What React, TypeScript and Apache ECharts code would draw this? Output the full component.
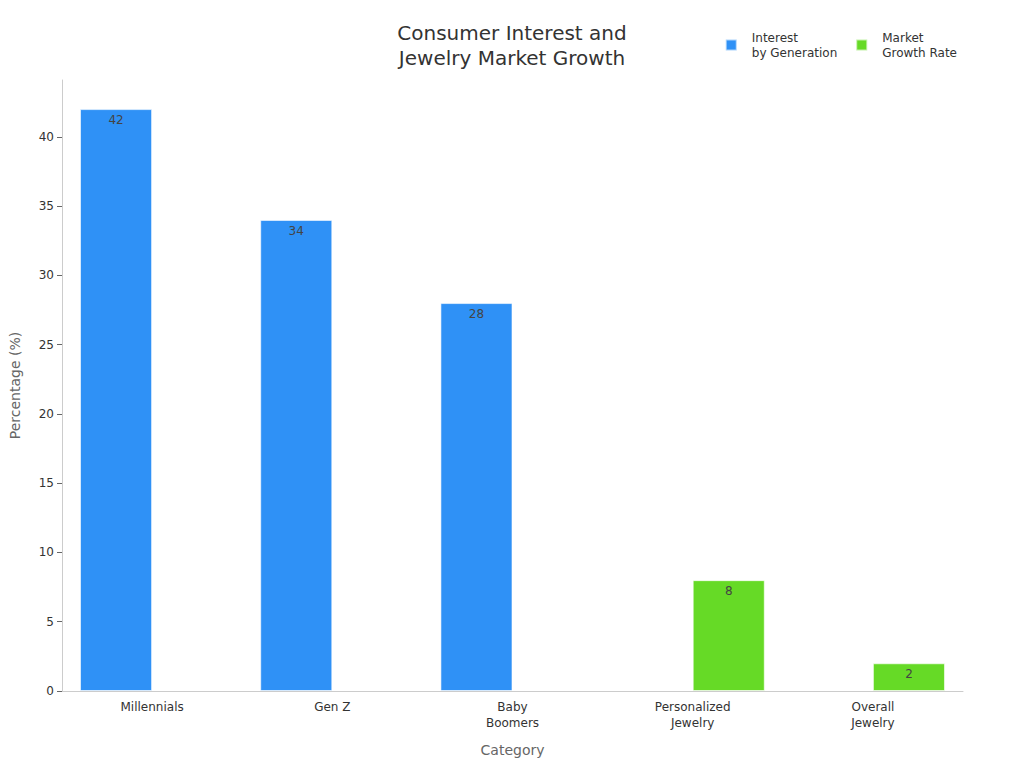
import { useEffect, useRef } from "react";
import * as echarts from "echarts";

const categories = ["Millennials", "Gen Z", "Baby\nBoomers", "Personalized\nJewelry", "Overall\nJewelry"];
const interestValues = [42, 34, 28, null, null];
const growthValues = [null, null, null, 8, 2];
const FONT = "DejaVu Sans";

export default function App() {
  const ref = useRef<HTMLDivElement | null>(null);

  useEffect(() => {
    if (!ref.current) return;
    const chart = echarts.init(ref.current, undefined, { renderer: "svg" });

    const label = {
      show: true,
      position: "insideTop" as const,
      color: "#444",
      fontSize: 12,
      fontFamily: FONT,
      formatter: (p: any) => (p.value == null ? "" : String(p.value))
    };

    chart.setOption({
      animation: false,
      backgroundColor: "#ffffff",
      textStyle: { fontFamily: FONT },
      title: {
        text: "Consumer Interest and\nJewelry Market Growth",
        left: "center",
        top: 15,
        textStyle: { fontSize: 20, fontWeight: "normal", color: "#333", fontFamily: FONT, lineHeight: 25 }
      },
      legend: {
        right: 62,
        top: 25,
        itemWidth: 11,
        itemHeight: 11,
        itemGap: 18,
        icon: "rect",
        textStyle: { fontSize: 12, color: "#333", fontFamily: FONT, lineHeight: 15, padding: [0, 0, 0, 10] },
        data: ["Interest\nby Generation", "Market\nGrowth Rate"]
      },
      grid: { left: 59, right: 61, top: 80, bottom: 77 },
      xAxis: {
        type: "category",
        data: categories,
        name: "Category",
        nameLocation: "middle",
        nameGap: 52,
        nameTextStyle: { fontSize: 14, color: "#666", fontFamily: FONT },
        axisLine: { lineStyle: { color: "#ccc" } },
        axisTick: { alignWithLabel: true, lineStyle: { color: "#666" } },
        axisLabel: { fontSize: 12, color: "#333", fontFamily: FONT, lineHeight: 16 }
      },
      yAxis: {
        type: "value",
        min: 0,
        max: 44.1,
        interval: 5,
        name: "Percentage (%)",
        nameLocation: "middle",
        nameGap: 40,
        nameTextStyle: { fontSize: 14, color: "#666", fontFamily: FONT },
        axisLine: { show: true, lineStyle: { color: "#ccc" } },
        axisTick: { show: true, lineStyle: { color: "#666" } },
        axisLabel: { fontSize: 12, color: "#333", fontFamily: FONT, showMaxLabel: false },
        splitLine: { show: false }
      },
      series: [
        {
          type: "bar",
          name: "Interest\nby Generation",
          data: interestValues,
          barGap: "0%",
          barCategoryGap: "20%",
          itemStyle: { color: "#2f91f6", borderColor: "rgba(255,255,255,0.6)", borderWidth: 1 },
          label
        },
        {
          type: "bar",
          name: "Market\nGrowth Rate",
          data: growthValues,
          itemStyle: { color: "#66da26", borderColor: "rgba(255,255,255,0.6)", borderWidth: 1 },
          label
        }
      ]
    });

    return () => {
      chart.dispose();
    };
  }, []);

  return <div ref={ref} style={{ position: "fixed", left: 0, top: 0, width: 1024, height: 768 }} />;
}
